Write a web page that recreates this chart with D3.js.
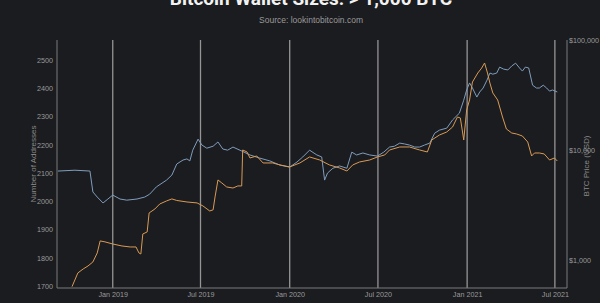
<!DOCTYPE html>
<html>
<head>
<meta charset="utf-8">
<script src="https://cdn.jsdelivr.net/npm/d3@7"></script>
<style>
  html, body { margin: 0; padding: 0; background: #1b1c1f; }
  svg { display: block; }
  text { font-family: "Liberation Sans", Arial, sans-serif; }
</style>
</head>
<body>
<svg id="chart"></svg>
<script>
// addresses holding > 1,000 BTC (left axis)
const addrDates = ["2018-09-10","2018-10-15","2018-11-15","2018-11-21","2018-11-30","2018-12-12","2018-12-22","2019-01-01","2019-01-16","2019-01-30","2019-02-20","2019-03-08","2019-03-18","2019-04-01","2019-04-22","2019-05-03","2019-05-13","2019-05-26","2019-06-03","2019-06-09","2019-06-15","2019-06-26","2019-07-04","2019-07-14","2019-07-27","2019-08-06","2019-08-16","2019-08-26","2019-09-06","2019-09-24","2019-10-11","2019-10-31","2019-11-21","2019-12-12","2020-01-01","2020-01-16","2020-01-28","2020-02-11","2020-02-26","2020-03-07","2020-03-13","2020-03-19","2020-03-30","2020-04-13","2020-04-28","2020-05-08","2020-05-18","2020-05-31","2020-06-14","2020-06-30","2020-07-13","2020-07-25","2020-08-04","2020-08-15","2020-08-25","2020-09-04","2020-09-15","2020-09-25","2020-10-05","2020-10-16","2020-10-26","2020-11-05","2020-11-20","2020-12-02","2020-12-16","2020-12-25","2020-12-31","2021-01-06","2021-01-12","2021-01-21","2021-01-27","2021-02-03","2021-02-11","2021-02-17","2021-02-23","2021-03-03","2021-03-09","2021-03-17","2021-03-26","2021-04-03","2021-04-11","2021-04-19","2021-04-25","2021-05-01","2021-05-08","2021-05-16","2021-05-24","2021-05-30","2021-06-07","2021-06-14","2021-06-20","2021-06-26","2021-07-06"];
const addrValues = [2107,2110,2107,2033,2015,1994,2008,2022,2008,2004,2008,2015,2025,2051,2075,2093,2132,2146,2150,2143,2181,2220,2199,2188,2195,2210,2185,2181,2192,2178,2164,2153,2143,2128,2121,2139,2157,2181,2164,2157,2075,2100,2117,2125,2117,2174,2164,2171,2164,2160,2174,2192,2195,2206,2203,2199,2192,2192,2199,2206,2241,2252,2259,2288,2312,2358,2394,2419,2401,2369,2387,2401,2429,2454,2450,2454,2475,2468,2465,2479,2489,2472,2461,2475,2472,2411,2401,2401,2411,2401,2390,2394,2387];

// BTC price (right axis, log)
const priceDates = ["2018-10-09","2018-10-21","2018-11-01","2018-11-11","2018-11-21","2018-11-30","2018-12-06","2018-12-16","2019-01-01","2019-01-20","2019-02-06","2019-02-18","2019-02-24","2019-02-28","2019-03-04","2019-03-13","2019-03-17","2019-03-29","2019-04-08","2019-04-22","2019-05-03","2019-05-13","2019-06-03","2019-06-24","2019-07-06","2019-07-20","2019-07-27","2019-07-31","2019-08-06","2019-08-14","2019-08-24","2019-09-06","2019-09-16","2019-09-24","2019-09-26","2019-10-05","2019-10-11","2019-10-25","2019-11-07","2019-11-27","2019-12-12","2020-01-01","2020-01-22","2020-02-11","2020-03-03","2020-03-23","2020-04-13","2020-04-28","2020-05-10","2020-05-24","2020-06-14","2020-06-30","2020-07-15","2020-07-25","2020-08-15","2020-09-04","2020-09-25","2020-10-11","2020-10-20","2020-11-05","2020-11-20","2020-12-02","2020-12-12","2020-12-18","2020-12-25","2020-12-31","2021-01-06","2021-01-12","2021-01-23","2021-01-31","2021-02-06","2021-02-12","2021-02-17","2021-02-23","2021-03-05","2021-03-15","2021-03-23","2021-04-03","2021-04-13","2021-04-25","2021-05-06","2021-05-14","2021-05-20","2021-05-30","2021-06-09","2021-06-20","2021-06-30","2021-07-06"];
const priceValues = [572,762,828,882,959,1158,1490,1460,1397,1340,1313,1313,1158,1134,1723,1798,2675,2910,3230,3440,3590,3475,3367,3300,3098,2790,2855,3740,5340,5010,4610,4510,4710,4710,10000,9590,8460,8820,7620,7620,7310,7010,7620,8640,8110,7310,6860,6440,7310,7780,8110,8640,9010,10000,10650,10650,10000,9590,12330,13690,14580,16180,19950,19540,12330,23100,28480,41500,50100,55600,61800,50100,40600,33000,28480,19950,15520,14270,13980,13400,11820,8820,9390,9390,9200,8110,8460,7940];

const leftTicks = [1700,1800,1900,2000,2100,2200,2300,2400,2500];
const rightTicks = [1000,10000,100000];
const rightTickLabels = ["$1,000","$10,000","$100,000"];
const xTicks = ["2019-01-01","2019-07-01","2020-01-01","2020-07-01","2021-01-01","2021-07-01"];
const xTickLabels = ["Jan 2019","Jul 2019","Jan 2020","Jul 2020","Jan 2021","Jul 2021"];

const width = 600, height = 303;
const margin = {top: 40, right: 33, bottom: 15, left: 57};
const parse = d3.utcParse("%Y-%m-%d");
const tickFont = 7.2;

const svg = d3.select("#chart").attr("width", width).attr("height", height);

const x = d3.scaleUtc()
    .domain([parse("2018-09-08"), parse("2021-07-26")])
    .range([margin.left, width - margin.right]);
const yLeft = d3.scaleLinear()
    .domain([1693, 2571])
    .range([height - margin.bottom, margin.top]);
const yRight = d3.scaleLog()
    .domain([556, 100000])
    .range([height - margin.bottom, margin.top]);

const addr = addrDates.map((d, i) => ({date: parse(d), v: addrValues[i]}));
const price = priceDates.map((d, i) => ({date: parse(d), v: priceValues[i]}));

// vertical grid lines
svg.append("g")
    .selectAll("line")
    .data(xTicks)
    .join("line")
    .attr("x1", d => x(parse(d)))
    .attr("x2", d => x(parse(d)))
    .attr("y1", margin.top)
    .attr("y2", height - margin.bottom)
    .attr("stroke", "#959595")
    .attr("stroke-width", 1.3);

// frame: left, right, bottom
const frame = svg.append("g").attr("stroke", "#7a7a7a").attr("stroke-width", 1);
frame.append("line").attr("x1", margin.left).attr("x2", margin.left)
    .attr("y1", margin.top).attr("y2", height - margin.bottom);
frame.append("line").attr("x1", width - margin.right).attr("x2", width - margin.right)
    .attr("y1", margin.top).attr("y2", height - margin.bottom);
frame.append("line").attr("x1", margin.left).attr("x2", width - margin.right)
    .attr("y1", height - margin.bottom).attr("y2", height - margin.bottom);

// lines
const addrLine = d3.line().x(d => x(d.date)).y(d => yLeft(d.v));
const priceLine = d3.line().x(d => x(d.date)).y(d => yRight(d.v));

svg.append("path")
    .datum(addr)
    .attr("fill", "none")
    .attr("stroke", "#7f9dbd")
    .attr("stroke-width", 1)
    .attr("d", addrLine);

svg.append("path")
    .datum(price)
    .attr("fill", "none")
    .attr("stroke", "#d99a55")
    .attr("stroke-width", 1)
    .attr("d", priceLine);

// axes
const axisLeft = svg.append("g")
    .attr("transform", `translate(${margin.left},0)`)
    .call(d3.axisLeft(yLeft).tickValues(leftTicks).tickFormat(d3.format("d"))
        .tickSize(0).tickPadding(4));
axisLeft.select(".domain").remove();
axisLeft.selectAll("text").attr("fill", "#9a9a9a").attr("font-size", tickFont);

const axisRight = svg.append("g")
    .attr("transform", `translate(${width - margin.right},0)`)
    .call(d3.axisRight(yRight).tickValues(rightTicks)
        .tickFormat((d, i) => rightTickLabels[i]).tickSize(0).tickPadding(2));
axisRight.select(".domain").remove();
axisRight.selectAll("text").attr("fill", "#9a9a9a").attr("font-size", tickFont);

const axisBottom = svg.append("g")
    .attr("transform", `translate(0,${height - margin.bottom})`)
    .call(d3.axisBottom(x).tickValues(xTicks.map(parse))
        .tickFormat((d, i) => xTickLabels[i]).tickSize(0).tickPadding(4));
axisBottom.select(".domain").remove();
axisBottom.selectAll("text").attr("fill", "#9a9a9a").attr("font-size", tickFont);

// axis titles
svg.append("text")
    .attr("transform", `translate(36,164) rotate(-90)`)
    .attr("text-anchor", "middle")
    .attr("fill", "#8a8a8a")
    .attr("font-size", 8)
    .text("Number of Addresses");

svg.append("text")
    .attr("transform", `translate(589,166) rotate(-90)`)
    .attr("text-anchor", "middle")
    .attr("fill", "#8a8a8a")
    .attr("font-size", 8)
    .text("BTC Price (USD)");

// title + source
svg.append("text")
    .attr("x", 311).attr("y", 5)
    .attr("text-anchor", "middle")
    .attr("fill", "#f2f2f2")
    .attr("font-size", 19)
    .attr("font-weight", "bold")
    .style("font-family", "Roboto, Liberation Sans, sans-serif")
    .text("Bitcoin Wallet Sizes: > 1,000 BTC");

svg.append("text")
    .attr("x", 311).attr("y", 23)
    .attr("text-anchor", "middle")
    .attr("fill", "#9a9a9a")
    .attr("font-size", 8.5)
    .text("Source: lookintobitcoin.com");
</script>
</body>
</html>
